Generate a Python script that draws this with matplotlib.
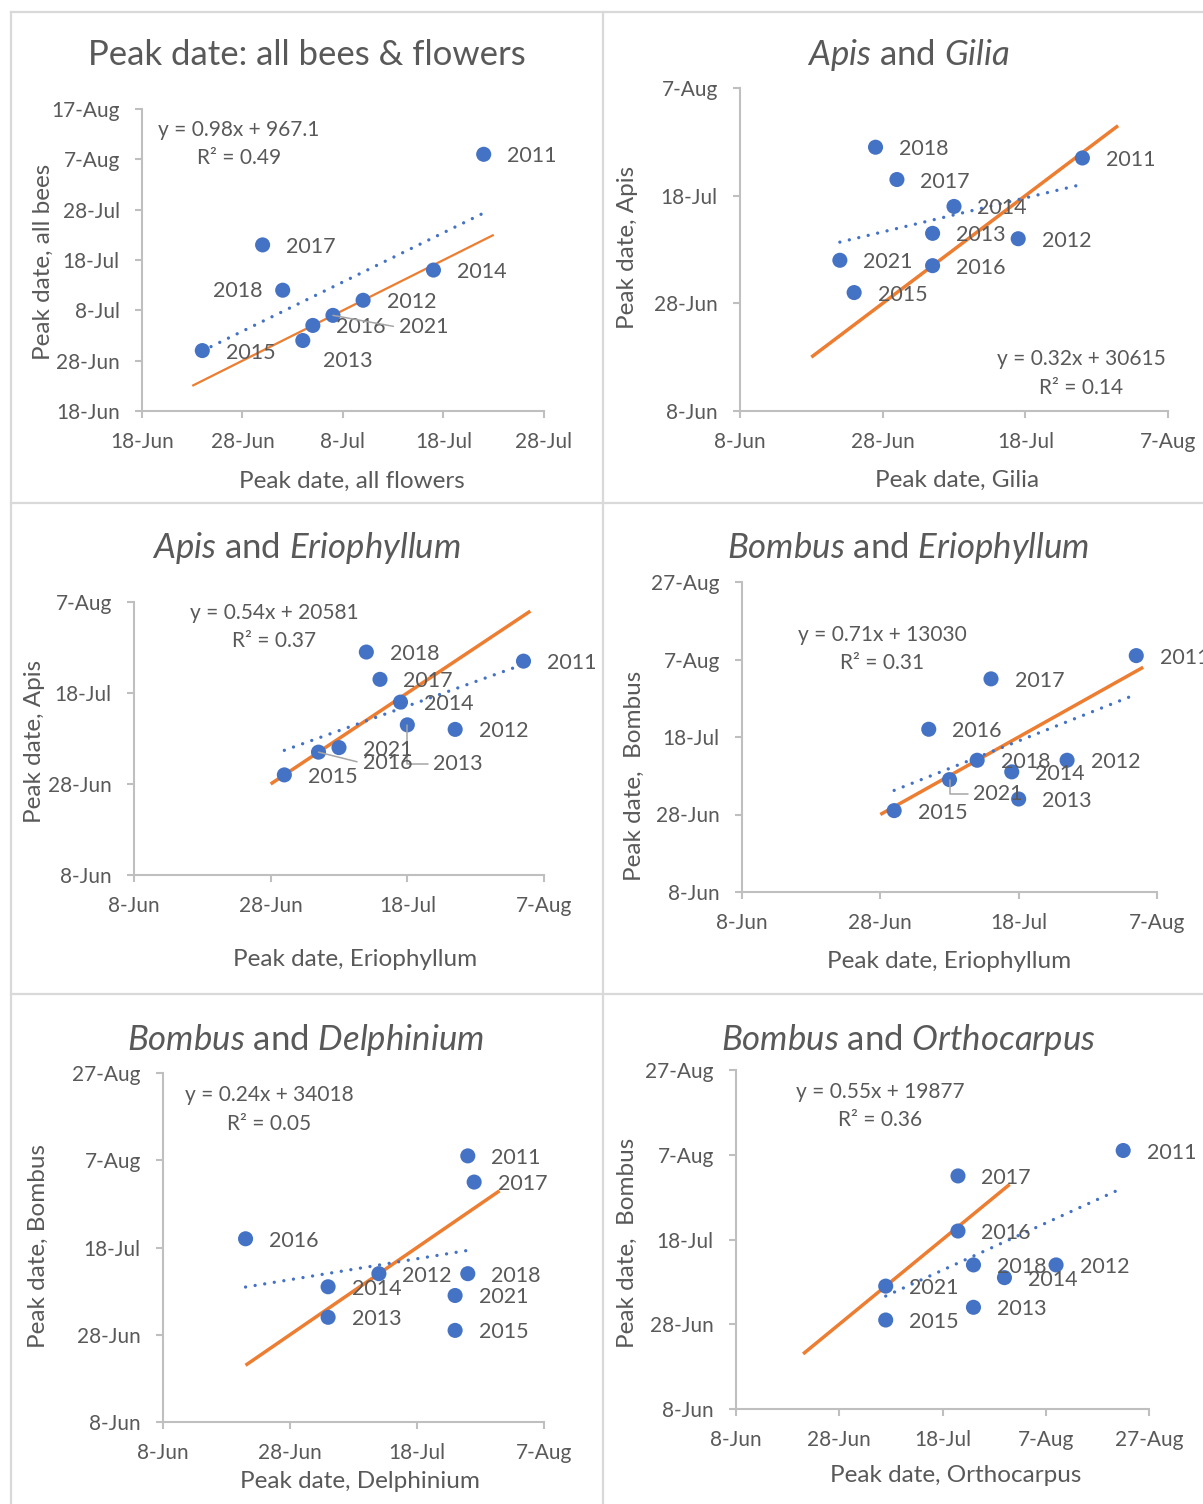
import datetime as dt
import numpy as np
import matplotlib
matplotlib.use("Agg")
import matplotlib.pyplot as plt
from matplotlib.lines import Line2D
from matplotlib.ticker import FuncFormatter

plt.rcParams['font.family'] = ['Lato', 'DejaVu Sans']
plt.rcParams['mathtext.fontset'] = 'custom'
plt.rcParams['mathtext.it'] = 'Lato:italic'
plt.rcParams['mathtext.rm'] = 'Lato'

# peak dates, as day of year (non-leap calendar)
years = ['2011', '2012', '2013', '2014', '2015', '2016', '2017', '2018', '2021']
all_flowers = [203, 191, 185, 198, 175, 186, 181, 183, 188]
all_bees = [220, 191, 183, 197, 181, 186, 202, 193, 188]
gilia = [207, 198, 186, 189, 175, 186, 181, 178, 173]
eriophyllum = [216, 206, 199, 198, 181, 186, 195, 193, 189]
delphinium = [207, 193, 185, 185, 205, 172, 208, 207, 205]
orthocarpus = [234, 221, 205, 211, 188, 202, 202, 205, 188]
apis = [206, 191, 192, 197, 181, 186, 202, 208, 187]
bombus = [220, 193, 183, 190, 180, 201, 214, 193, 188]

titles = ['Peak date: all bees & flowers',
          r'$\mathit{Apis}$ and $\mathit{Gilia}$',
          r'$\mathit{Apis}$ and $\mathit{Eriophyllum}$',
          r'$\mathit{Bombus}$ and $\mathit{Eriophyllum}$',
          r'$\mathit{Bombus}$ and $\mathit{Delphinium}$',
          r'$\mathit{Bombus}$ and $\mathit{Orthocarpus}$']
xlabels = ['Peak date, all flowers', 'Peak date, Gilia', 'Peak date, Eriophyllum',
           'Peak date, Eriophyllum', 'Peak date, Delphinium', 'Peak date, Orthocarpus']
ylabels = ['Peak date, all bees', 'Peak date, Apis', 'Peak date, Apis',
           'Peak date,  Bombus', 'Peak date, Bombus', 'Peak date,  Bombus']
equations = [('y = 0.98x + 967.1', 'R² = 0.49'),
             ('y = 0.32x + 30615', 'R² = 0.14'),
             ('y = 0.54x + 20581', 'R² = 0.37'),
             ('y = 0.71x + 13030', 'R² = 0.31'),
             ('y = 0.24x + 34018', 'R² = 0.05'),
             ('y = 0.55x + 19877', 'R² = 0.36')]
# 1:1 reference line extent for each panel
one_to_one = [(174, 204), (169, 212), (179, 217), (179, 217), (172, 212), (172, 212)]

W, H = 1203, 1504
BLUE = '#4472C4'
ORANGE = '#ED7D31'
TEXT = '#595959'
AXIS = '#BFBFBF'
BORDER = '#D9D9D9'


def fx(x):
    return x / W


def fy(y):
    return 1 - y / H


def doy_label(v, pos):
    d = dt.date(2021, 1, 1) + dt.timedelta(days=int(round(v)) - 1)
    return f"{d.day}-{d.strftime('%b')}"


# layout in pixels: axes box (left, top, right, bottom), limits, tick step,
# title / axis label / equation anchors, label offsets (dx, dy[, kind])
panels = [
    dict(x=all_flowers, y=all_bees, box=(142, 109, 544, 411), xlim=(169, 209), ylim=(169, 229),
         step=10, title=(307, 55), xl=(352, 481), yl=(43, 262), eq=(239, 130), lw=1.6,
         offsets={'2018': (-20, 1, 'right'), '2013': (20, 20), '2021': (66, 12, 'line')}),
    dict(x=gilia, y=apis, box=(740, 88, 1168, 411), xlim=(159, 219), ylim=(159, 219),
         step=20, title=(908, 55), xl=(957, 480), yl=(627, 247), eq=(1081, 359), lw=2.5,
         offsets={}),
    dict(x=eriophyllum, y=apis, box=(134, 602, 544, 875), xlim=(159, 219), ylim=(159, 219),
         step=20, title=(306, 548), xl=(355, 959), yl=(35, 741), eq=(274, 613), lw=2.5,
         offsets={'2013': (26, 39, 'elbow'), '2016': (44, 11, 'line')}),
    dict(x=eriophyllum, y=bombus, box=(742, 582, 1157, 892), xlim=(159, 219), ylim=(159, 239),
         step=20, title=(908, 548), xl=(949, 962), yl=(634, 776), eq=(882, 635), lw=2.5,
         offsets={'2021': (24, 14, 'elbow')}),
    dict(x=delphinium, y=bombus, box=(163, 1073, 544, 1422), xlim=(159, 219), ylim=(159, 239),
         step=20, title=(306, 1040), xl=(360, 1481), yl=(38, 1246), eq=(269, 1095), lw=2.5,
         offsets={}),
    dict(x=orthocarpus, y=bombus, box=(736, 1070, 1149, 1409), xlim=(159, 239), ylim=(159, 239),
         step=20, title=(908, 1040), xl=(956, 1476), yl=(627, 1243), eq=(880, 1092), lw=2.5,
         offsets={}),
]

fig = plt.figure(figsize=(W / 100, H / 100), dpi=100)

# panel frames
for x0, y0, x1, y1 in [(10.5, 11.5, 10.5, H), (10.5, 11.5, W, 11.5), (603, 11.5, 603, H),
                       (10.5, 502.5, W, 502.5), (10.5, 994, W, 994)]:
    fig.add_artist(Line2D([fx(x0), fx(x1)], [fy(y0), fy(y1)], color=BORDER, lw=1.6))

for i, p in enumerate(panels):
    l, t, r, b = p['box']
    ax = fig.add_axes([fx(l), fy(b), (r - l) / W, (b - t) / H])
    ax.set_xlim(*p['xlim'])
    ax.set_ylim(*p['ylim'])
    ax.set_xticks(np.arange(p['xlim'][0], p['xlim'][1] + 1, p['step']))
    ax.set_yticks(np.arange(p['ylim'][0], p['ylim'][1] + 1, p['step']))
    ax.xaxis.set_major_formatter(FuncFormatter(doy_label))
    ax.yaxis.set_major_formatter(FuncFormatter(doy_label))
    for side in ['top', 'right']:
        ax.spines[side].set_visible(False)
    for side in ['left', 'bottom']:
        ax.spines[side].set_color(AXIS)
        ax.spines[side].set_linewidth(1.5)
    ax.tick_params(direction='out', length=5, width=1.5, color=AXIS,
                   labelcolor=TEXT, labelsize=15)
    ax.tick_params(axis='y', pad=11)
    ax.tick_params(axis='x', pad=10)
    ax.patch.set_alpha(0)

    xs = np.array(p['x'], dtype=float)
    ys = np.array(p['y'], dtype=float)

    # 1:1 line
    lo, hi = one_to_one[i]
    ax.plot([lo, hi], [lo, hi], color=ORANGE, lw=p['lw'], solid_capstyle='butt', zorder=2)

    # least-squares trend over the data range
    k, c = np.polyfit(xs, ys, 1)
    tx = np.array([xs.min(), xs.max()])
    ax.plot(tx, k * tx + c, color=BLUE, lw=2.4, linestyle=(0, (0.01, 2.9)),
            dash_capstyle='round', zorder=2)

    ax.scatter(xs, ys, s=118, color=BLUE, edgecolors='none', zorder=3)

    for yr, xv, yv in zip(years, xs, ys):
        off = p['offsets'].get(yr, (23.5, 2))
        dx, dy = off[0] * 0.72, -off[1] * 0.72
        kind = off[2] if len(off) > 2 else None
        ha = 'right' if kind == 'right' else 'left'
        kw = {}
        if kind in ('line', 'elbow'):
            style = 'arc3' if kind == 'line' else 'angle,angleA=0,angleB=90,rad=0'
            kw['arrowprops'] = dict(arrowstyle='-', color='#A6A6A6', lw=1.1,
                                    shrinkA=2, shrinkB=0, connectionstyle=style,
                                    relpos=(0, 0.5))
        ax.annotate(yr, (xv, yv), xytext=(dx, dy), textcoords='offset points',
                    ha=ha, va='center', fontsize=15.5, color=TEXT,
                    annotation_clip=False, zorder=4, **kw)

    tx_, ty_ = p['title']
    fig.text(fx(tx_), fy(ty_), titles[i], ha='center', va='center', fontsize=25, color=TEXT)
    lx, ly = p['xl']
    fig.text(fx(lx), fy(ly), xlabels[i], ha='center', va='center', fontsize=17.5, color=TEXT)
    lx, ly = p['yl']
    fig.text(fx(lx), fy(ly), ylabels[i], ha='center', va='center', fontsize=17.5,
             color=TEXT, rotation=90)
    ex, ey = p['eq']
    fig.text(fx(ex), fy(ey), equations[i][0], ha='center', va='center', fontsize=15, color=TEXT)
    fig.text(fx(ex), fy(ey + 28.5), equations[i][1], ha='center', va='center', fontsize=15,
             color=TEXT)

fig.savefig('out.png', dpi=100, facecolor='white')
